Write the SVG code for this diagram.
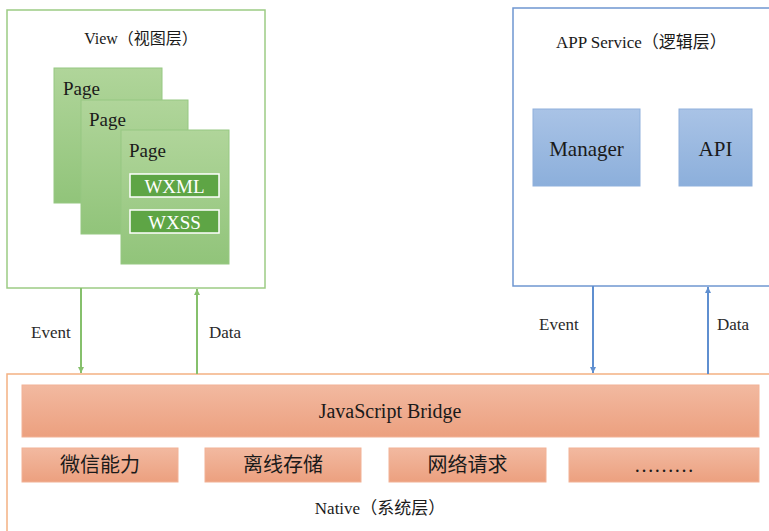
<svg xmlns="http://www.w3.org/2000/svg" width="769" height="531" viewBox="0 0 769 531">
  <defs>
    <linearGradient id="gGreen" x1="0" y1="0" x2="0" y2="1">
      <stop offset="0" stop-color="#b0d59a"/>
      <stop offset="1" stop-color="#91c47a"/>
    </linearGradient>
    <linearGradient id="gBlue" x1="0" y1="0" x2="0" y2="1">
      <stop offset="0" stop-color="#a9c3e6"/>
      <stop offset="1" stop-color="#8cafdb"/>
    </linearGradient>
    <linearGradient id="gOrange" x1="0" y1="0" x2="0" y2="1">
      <stop offset="0" stop-color="#f2b9a0"/>
      <stop offset="1" stop-color="#eca07f"/>
    </linearGradient>
    <marker id="arrGreen" viewBox="0 0 10 10" refX="10" refY="5" markerWidth="3" markerHeight="3" orient="auto">
      <path d="M0,0 L10,5 L0,10 z" fill="#86c06c"/>
    </marker>
    <marker id="arrBlue" viewBox="0 0 10 10" refX="10" refY="5" markerWidth="3" markerHeight="3" orient="auto">
      <path d="M0,0 L10,5 L0,10 z" fill="#5f8fd0"/>
    </marker>
  </defs>
  <style>
    text { font-family: "Liberation Serif", "Noto Sans CJK SC", serif; fill: #1a1a1a; }
    .title { font-size: 17px; }
    .page { fill: url(#gGreen); stroke: #96c882; stroke-width: 1; }
    .pageText { font-size: 19px; }
    .tag { fill: #5ea545; stroke: #ffffff; stroke-width: 1.5; }
    .tagText { font-size: 19px; fill: #ffffff; text-anchor: middle; }
    .svc { fill: url(#gBlue); stroke: #8fb0dc; stroke-width: 1; }
    .svcText { font-size: 21px; text-anchor: middle; }
    .nat { fill: url(#gOrange); stroke: #f2b296; stroke-width: 1; }
    .natText { font-size: 20px; text-anchor: middle; }
    .lbl { font-size: 17px; fill: #2a2a2a; }
    .lineG { stroke: #86c06c; stroke-width: 2; fill: none; }
    .lineB { stroke: #5f8fd0; stroke-width: 2; fill: none; }
  </style>

  <rect width="769" height="531" fill="#ffffff"/>

  <!-- View layer -->
  <g id="view">
    <rect x="7" y="10" width="258" height="278" fill="#ffffff" stroke="#9ccb84" stroke-width="1.5"/>
    <text class="title" x="141" y="44" text-anchor="middle" style="font-size:16px">View（视图层）</text>
    <g id="page1">
      <rect class="page" x="54" y="68" width="108" height="135"/>
      <text class="pageText" x="63" y="95">Page</text>
    </g>
    <g id="page2">
      <rect class="page" x="81" y="100" width="107" height="134"/>
      <text class="pageText" x="89" y="126">Page</text>
    </g>
    <g id="page3">
      <rect class="page" x="121" y="130" width="108" height="134"/>
      <text class="pageText" x="129" y="157">Page</text>
      <rect class="tag" x="130" y="174" width="89" height="23"/>
      <text class="tagText" x="174.5" y="192.5">WXML</text>
      <rect class="tag" x="130" y="210" width="89" height="23"/>
      <text class="tagText" x="174.5" y="228.5">WXSS</text>
    </g>
  </g>

  <!-- Logic layer -->
  <g id="service">
    <rect x="513" y="8" width="262" height="278" fill="#ffffff" stroke="#6f97d1" stroke-width="1.5"/>
    <text class="title" x="556" y="48">APP Service（逻辑层）</text>
    <g id="manager">
      <rect class="svc" x="533" y="109" width="107" height="77"/>
      <text class="svcText" x="586.5" y="156">Manager</text>
    </g>
    <g id="api">
      <rect class="svc" x="679" y="109" width="73" height="77"/>
      <text class="svcText" x="715.5" y="156">API</text>
    </g>
  </g>

  <!-- Native layer -->
  <g id="native">
    <rect x="7" y="374" width="770" height="170" fill="#ffffff" stroke="#f4b183" stroke-width="1.5"/>
    <g id="bridge">
      <rect class="nat" x="22" y="385" width="737" height="52"/>
      <text class="natText" x="390" y="418">JavaScript Bridge</text>
    </g>
    <g id="wechat">
      <rect class="nat" x="22" y="448" width="156" height="34"/>
      <text class="natText" x="100" y="472">微信能力</text>
    </g>
    <g id="storage">
      <rect class="nat" x="205" y="448" width="156" height="34"/>
      <text class="natText" x="283" y="472">离线存储</text>
    </g>
    <g id="network">
      <rect class="nat" x="389" y="448" width="157" height="34"/>
      <text class="natText" x="467.5" y="472">网络请求</text>
    </g>
    <g id="more">
      <rect class="nat" x="569" y="448" width="190" height="34"/>
      <text class="natText" x="664" y="472">………</text>
    </g>
    <text class="title" x="380" y="514" text-anchor="middle">Native（系统层）</text>
  </g>

  <!-- Connectors -->
  <g id="connectors">
    <line class="lineG" x1="81" y1="288" x2="81" y2="373" marker-end="url(#arrGreen)"/>
    <line class="lineG" x1="197" y1="374" x2="197" y2="289" marker-end="url(#arrGreen)"/>
    <line class="lineB" x1="593" y1="286" x2="593" y2="373" marker-end="url(#arrBlue)"/>
    <line class="lineB" x1="708" y1="374" x2="708" y2="287" marker-end="url(#arrBlue)"/>
    <text class="lbl" x="31" y="338">Event</text>
    <text class="lbl" x="209" y="338">Data</text>
    <text class="lbl" x="539" y="330">Event</text>
    <text class="lbl" x="717" y="330">Data</text>
  </g>
</svg>
